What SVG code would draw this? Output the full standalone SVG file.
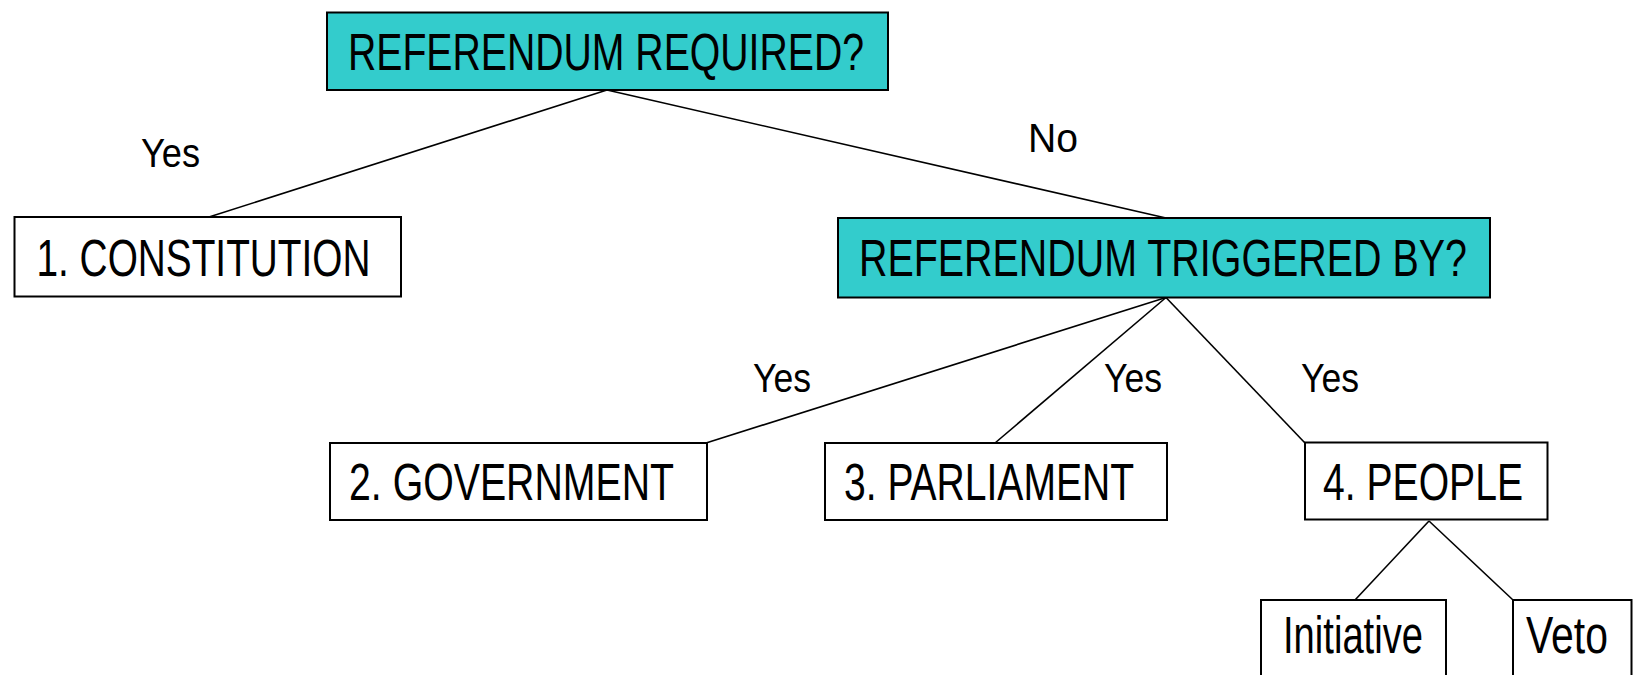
<svg xmlns="http://www.w3.org/2000/svg" width="1637" height="675" viewBox="0 0 1637 675">
<style>
.box{fill:#fff;stroke:#000;stroke-width:2}
.q{fill:#33CCCC;stroke:#000;stroke-width:2}
.t{font-family:"Liberation Sans Narrow","Liberation Sans",Arial,sans-serif;font-size:51px;fill:#000}
.lbl{font-family:"Liberation Sans",Arial,sans-serif;font-size:40px;fill:#000}
.c line{stroke:#000;stroke-width:1.6}
</style>
<rect width="1637" height="675" fill="#fff"/>
<g class="c" id="connectors">
<line x1="607" y1="90" x2="209" y2="217"/>
<line x1="607" y1="90" x2="1166" y2="218"/>
<line x1="1166" y1="297.5" x2="706" y2="443"/>
<line x1="1166" y1="297.5" x2="995" y2="443"/>
<line x1="1166" y1="297.5" x2="1305" y2="443"/>
<line x1="1429" y1="521" x2="1355" y2="600"/>
<line x1="1429" y1="521" x2="1513" y2="600"/>
<text class="lbl" x="141" y="167" textLength="59" lengthAdjust="spacingAndGlyphs">Yes</text>
<text class="lbl" x="1028" y="152" textLength="50" lengthAdjust="spacingAndGlyphs">No</text>
<text class="lbl" x="753" y="392" textLength="58" lengthAdjust="spacingAndGlyphs">Yes</text>
<text class="lbl" x="1104" y="392" textLength="58" lengthAdjust="spacingAndGlyphs">Yes</text>
<text class="lbl" x="1301" y="392" textLength="58" lengthAdjust="spacingAndGlyphs">Yes</text>
</g>
<g id="n-required">
<rect class="q" x="327" y="12.5" width="561" height="77.5"/>
<text class="t" x="348" y="69.5" textLength="516" lengthAdjust="spacingAndGlyphs">REFERENDUM REQUIRED?</text>
</g>
<g id="n-constitution">
<rect class="box" x="14.5" y="217" width="386.5" height="79.5"/>
<text class="t" x="36.5" y="275.5" textLength="334" lengthAdjust="spacingAndGlyphs">1. CONSTITUTION</text>
</g>
<g id="n-triggered">
<rect class="q" x="838" y="218" width="652" height="79.5"/>
<text class="t" x="859" y="276" textLength="608" lengthAdjust="spacingAndGlyphs">REFERENDUM TRIGGERED BY?</text>
</g>
<g id="n-government">
<rect class="box" x="330" y="443" width="377" height="77"/>
<text class="t" x="349" y="500" textLength="325" lengthAdjust="spacingAndGlyphs">2. GOVERNMENT</text>
</g>
<g id="n-parliament">
<rect class="box" x="825" y="443" width="342" height="77"/>
<text class="t" x="844" y="500" textLength="290" lengthAdjust="spacingAndGlyphs">3. PARLIAMENT</text>
</g>
<g id="n-people">
<rect class="box" x="1305" y="442.5" width="242.5" height="77"/>
<text class="t" x="1323" y="500" textLength="200" lengthAdjust="spacingAndGlyphs">4. PEOPLE</text>
</g>
<g id="n-initiative">
<rect class="box" x="1261" y="600" width="185" height="90"/>
<text class="t" x="1283" y="653" textLength="140" lengthAdjust="spacingAndGlyphs">Initiative</text>
</g>
<g id="n-veto">
<rect class="box" x="1513" y="600" width="118.5" height="90"/>
<text class="t" x="1526" y="653" textLength="82" lengthAdjust="spacingAndGlyphs">Veto</text>
</g>
</svg>
